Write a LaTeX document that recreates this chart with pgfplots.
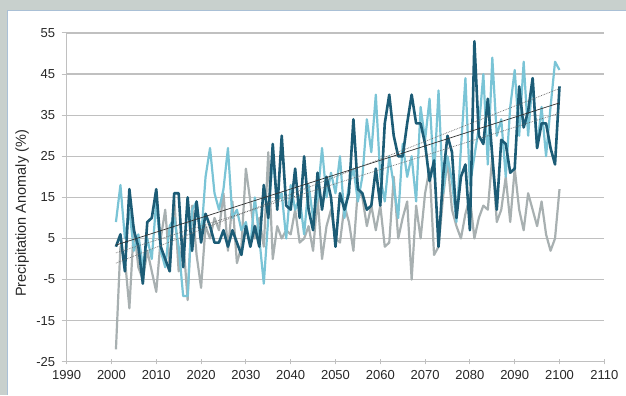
\documentclass[border=0pt]{standalone}
\usepackage{pgfplots}
\usepackage{pgfplotstable}
\pgfplotsset{compat=1.18}
\usepackage{fontspec}
\setmainfont{Liberation Sans}

\definecolor{bggrey}{RGB}{200,208,205}
\definecolor{framecol}{RGB}{170,192,214}
\definecolor{gridgrey}{RGB}{192,192,192}
\definecolor{darkteal}{RGB}{28,92,118}
\definecolor{lightblue}{RGB}{122,196,214}
\definecolor{greyline}{RGB}{168,176,177}
\definecolor{labelgrey}{RGB}{40,40,40}

% year, dark model, light model, grey model (precipitation anomaly, %)
\pgfplotstableread{
year dark light grey
2001 3 9 -22
2002 6 18 3
2003 -3 5 0
2004 17 12 -12
2005 7 2 8
2006 3 6 -2
2007 -6 -2 -5
2008 9 5 2
2009 10 0 -3
2010 17 14 -8
2011 3 2 5
2012 0 -2 12
2013 -3 8 -2
2014 16 10 15
2015 16 3 -3
2016 -2 -9 5
2017 15 -9 -10
2018 2 12 13
2019 14 14 1
2020 4 5 -7
2021 11 20 8
2022 8 27 5
2023 4 16 10
2024 4 12 7
2025 7 17 16
2026 3 27 2
2027 7 10 14
2028 4 12 -1
2029 1 7 3
2030 8 9 22
2031 3 3 14
2032 8 15 5
2033 3 5 10
2034 18 -6 3
2035 10 10 26
2036 28 25 0
2037 12 14 8
2038 30 16 5
2039 13 5 7
2040 12 18 6
2041 22 12 12
2042 10 15 4
2043 25 6 5
2044 12 18 8
2045 7 10 2
2046 21 15 15
2047 12 27 0
2048 20 15 8
2049 15 21 12
2050 3 16 5
2051 16 25 4
2052 12 10 13
2053 16 18 9
2054 34 22 2
2055 17 14 17
2056 16 20 15
2057 12 34 8
2058 13 26 13
2059 22 40 7
2060 13 20 13
2061 33 14 3
2062 40 25 4
2063 30 18 20
2064 25 10 5
2065 25 28 10
2066 33 20 14
2067 40 25 -5
2068 33 14 13
2069 33 37 5
2070 28 29 16
2071 19 39 22
2072 24 20 1
2073 3 41 3
2074 20 16 15
2075 30 25 24
2076 26 19 12
2077 10 9 8
2078 20 27 5
2079 23 44 11
2080 7 18 15
2081 53 25 5
2082 30 32 10
2083 28 45 13
2084 39 23 12
2085 25 49 25
2086 12 30 9
2087 29 34 12
2088 28 20 20
2089 21 37 9
2090 22 46 22
2091 42 30 12
2092 32 48 7
2093 36 30 16
2094 44 44 12
2095 27 27 8
2096 33 37 14
2097 33 25 6
2098 27 37 2
2099 23 48 5
2100 42 46 17
}\precip

\begin{document}
\begin{tikzpicture}
  % panel background and frame
  \fill[bggrey] (0,0) rectangle (626pt,395pt);
  \fill[white] (7pt,0) rectangle (626pt,385pt);
  \draw[framecol, line width=0.8pt] (7pt,0) -- (7pt,385pt) -- (626pt,385pt);
  \path[use as bounding box] (0,0) rectangle (626pt,395pt);

  \begin{axis}[
    at={(66.7pt,33pt)}, anchor=south west,
    scale only axis, width=538pt, height=329pt,
    xmin=1990, xmax=2110, ymin=-25, ymax=55,
    xtick={1990,2000,...,2110},
    ytick={-25,-15,...,55},
    axis x line=bottom, axis y line=left,
    axis line style={-, draw=gridgrey, line width=1.2pt},
    ymajorgrids,
    grid style={draw=gridgrey, line width=1.2pt},
    x tick style={draw=gridgrey, line width=1pt},
    y tick style={draw=gridgrey, line width=1pt},
    xtick align=center, ytick align=outside,
    major tick length=5pt,
    /pgf/number format/assume math mode=true,
    /pgf/number format/1000 sep={},
    tick label style={font=\fontsize{13}{15}\selectfont, text=labelgrey},
    xticklabel style={yshift=-3pt},
    yticklabel style={xshift=-3pt},
    ylabel={Precipitation Anomaly (\%)},
    every axis y label/.style={at={(axis description cs:-0.083,0.451)},
      rotate=90, anchor=center, font=\fontsize{14.5}{16}\selectfont, text=labelgrey},
    clip=false,
  ]
    \addplot[greyline, line width=2.2pt, line join=round] table[x=year, y=grey] {\precip};
    \addplot[lightblue, line width=2.2pt, line join=round] table[x=year, y=light] {\precip};
    \addplot[darkteal, line width=2.6pt, line join=round] table[x=year, y=dark] {\precip};
    % linear trends
    \addplot[black!80, line width=0.7pt] coordinates {(2001,3.4) (2100,38)};
    \addplot[black!60, line width=0.7pt, densely dotted] coordinates {(2001,-1) (2100,41.5)};
    \addplot[black!60, line width=0.7pt, densely dotted] coordinates {(2001,1.5) (2100,35.5)};
  \end{axis}
\end{tikzpicture}
\end{document}
